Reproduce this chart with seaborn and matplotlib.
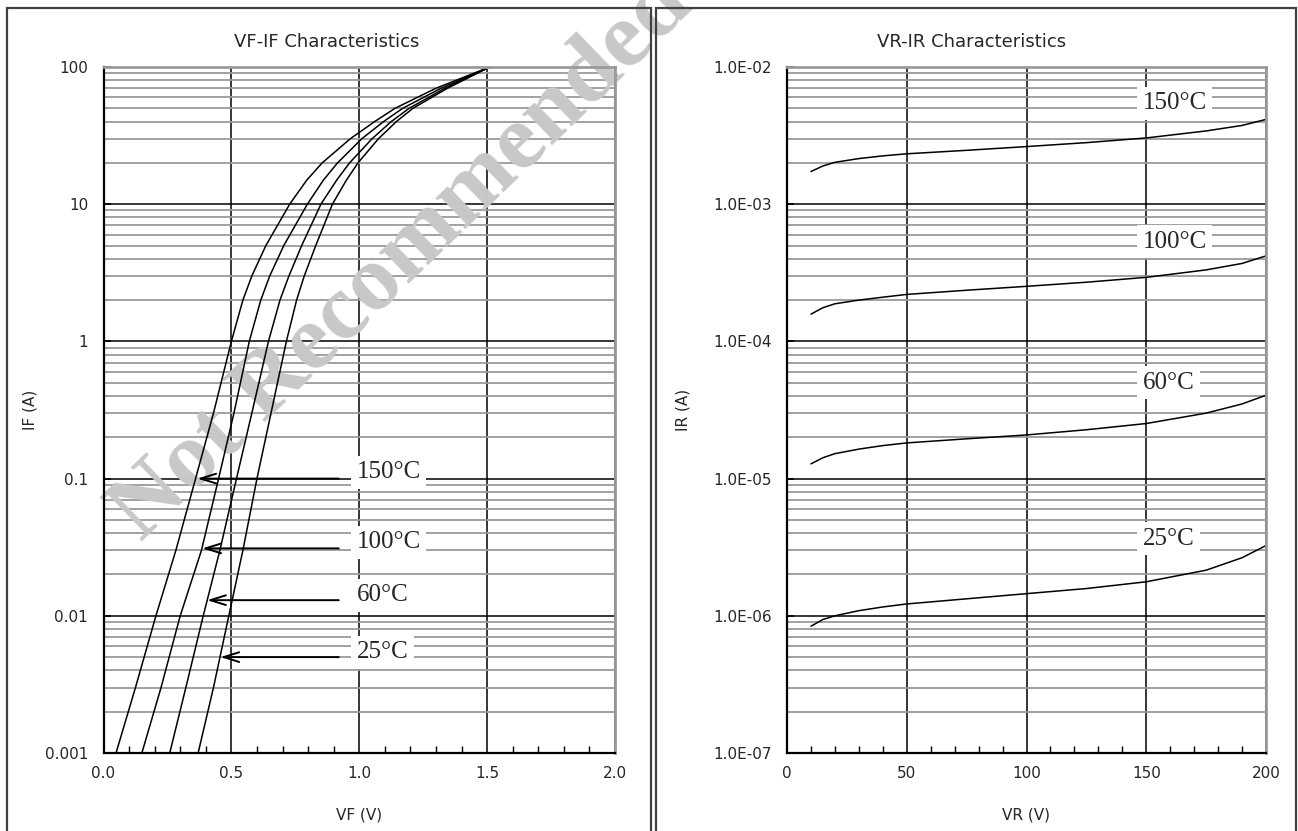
import matplotlib

matplotlib.use('Agg')

import numpy as np
import pandas as pd
import seaborn as sns
from matplotlib import pyplot as plt
from matplotlib.patches import Rectangle
from matplotlib.ticker import MultipleLocator, LogLocator, NullFormatter, FormatStrFormatter

# ---- data ----
temps = ['150°C', '100°C', '60°C', '25°C']

# VF-IF: forward voltage (V) at each forward current (A)
if_points = [0.001, 0.003, 0.01, 0.03, 0.1, 0.3, 1, 2, 3, 5, 10, 15, 20, 30, 40, 50, 70, 100]
vf_150 = [0.049, 0.125, 0.205, 0.283, 0.360, 0.430, 0.500, 0.545, 0.580, 0.635, 0.728, 0.795,
          0.855, 0.965, 1.060, 1.140, 1.300, 1.51]
vf_100 = [0.150, 0.225, 0.300, 0.383, 0.450, 0.510, 0.570, 0.615, 0.650, 0.705, 0.797, 0.860,
          0.915, 1.010, 1.095, 1.170, 1.320, 1.51]
vf_60 = [0.259, 0.322, 0.390, 0.455, 0.520, 0.580, 0.645, 0.690, 0.725, 0.775, 0.850, 0.912,
         0.962, 1.050, 1.125, 1.195, 1.335, 1.51]
vf_25 = [0.370, 0.430, 0.490, 0.545, 0.600, 0.655, 0.715, 0.755, 0.785, 0.830, 0.895, 0.950,
         0.995, 1.075, 1.145, 1.210, 1.345, 1.51]

# VR-IR: reverse current (A) at each reverse voltage (V)
vr_points = [10, 15, 20, 30, 40, 50, 75, 100, 125, 150, 175, 190, 200]
ir_150 = [1.73e-3, 1.90e-3, 2.02e-3, 2.15e-3, 2.25e-3, 2.33e-3, 2.47e-3, 2.63e-3, 2.81e-3,
          3.04e-3, 3.42e-3, 3.75e-3, 4.15e-3]
ir_100 = [1.58e-4, 1.76e-4, 1.88e-4, 2.00e-4, 2.10e-4, 2.20e-4, 2.36e-4, 2.52e-4, 2.70e-4,
          2.93e-4, 3.32e-4, 3.70e-4, 4.20e-4]
ir_60 = [1.28e-5, 1.42e-5, 1.52e-5, 1.64e-5, 1.74e-5, 1.82e-5, 1.95e-5, 2.08e-5, 2.27e-5,
         2.52e-5, 3.00e-5, 3.50e-5, 4.05e-5]
ir_25 = [8.4e-7, 9.4e-7, 1.0e-6, 1.09e-6, 1.16e-6, 1.22e-6, 1.33e-6, 1.45e-6, 1.58e-6,
         1.77e-6, 2.15e-6, 2.65e-6, 3.25e-6]

# annotation positions (left panel arrows, label anchors)
arrow_if = [0.1, 0.031, 0.013, 0.005]
arrow_tip_vf = [0.367, 0.386, 0.405, 0.457]
label_if = [0.111, 0.0343, 0.0141, 0.00544]
label_ir = [5.45e-3, 5.32e-4, 5.0e-5, 3.63e-6]

if_ticks = [0.001, 0.01, 0.1, 1, 10, 100]
if_ticklabels = ['0.001', '0.01', '0.1', '1', '10', '100']
ir_ticks = [1e-7, 1e-6, 1e-5, 1e-4, 1e-3, 1e-2]
ir_ticklabels = ['1.0E-07', '1.0E-06', '1.0E-05', '1.0E-04', '1.0E-03', '1.0E-02']

fwd = pd.concat([pd.DataFrame({'IF': if_points, 'VF': v, 'temp': t})
                 for t, v in zip(temps, [vf_150, vf_100, vf_60, vf_25])])
rev = pd.concat([pd.DataFrame({'VR': vr_points, 'IR': v, 'temp': t})
                 for t, v in zip(temps, [ir_150, ir_100, ir_60, ir_25])])

sns.set_style('white')
plt.rcParams['font.family'] = ['DejaVu Sans']

W, H = 1298, 831
fig = plt.figure(figsize=(W / 100, H / 100), dpi=100)
ax1 = fig.add_axes([103.5 / W, 1 - 753 / H, (615 - 103.5) / W, (753 - 67) / H])
ax2 = fig.add_axes([787 / W, 1 - 753 / H, (1266 - 787) / W, (753 - 67) / H])

black_pal = {t: 'black' for t in temps}
sns.lineplot(data=fwd, x='VF', y='IF', hue='temp', palette=black_pal, estimator=None,
             sort=False, legend=False, lw=1.1, ax=ax1, zorder=2)
sns.lineplot(data=rev, x='VR', y='IR', hue='temp', palette=black_pal, estimator=None,
             sort=False, legend=False, lw=1.1, ax=ax2, zorder=2)


def style_axes(ax, xmax, xmajor, xminor, yticks, yticklabels):
    ax.set_yscale('log')
    ax.set_xlim(0, xmax)
    ax.set_ylim(yticks[0], yticks[-1])
    ax.set_axisbelow(True)
    ax.xaxis.set_major_locator(MultipleLocator(xmajor))
    ax.xaxis.set_minor_locator(MultipleLocator(xminor))
    ax.set_yticks(yticks, labels=yticklabels)
    ax.yaxis.set_minor_locator(LogLocator(base=10, subs=np.arange(2, 10)))
    ax.yaxis.set_minor_formatter(NullFormatter())
    ax.grid(which='major', axis='both', color='black', lw=1.1)
    ax.grid(which='minor', axis='y', color='#9a9a9a', lw=1.3)
    ax.tick_params(axis='x', which='major', length=0, pad=9, labelsize=11)
    ax.tick_params(axis='x', which='minor', direction='in', length=5, width=1, color='black',
                   bottom=True)
    ax.tick_params(axis='y', which='major', direction='in', length=5, width=1.2, color='black',
                   pad=11, labelsize=11, left=True)
    ax.tick_params(axis='y', which='minor', length=0)
    for side in ['left', 'bottom']:
        ax.spines[side].set_color('black')
        ax.spines[side].set_linewidth(1.6)
    for side in ['top', 'right']:
        ax.spines[side].set_color('#9a9a9a')
        ax.spines[side].set_linewidth(2.0)


style_axes(ax1, 2.0, 0.5, 0.1, if_ticks, if_ticklabels)
style_axes(ax2, 200, 50, 10, ir_ticks, ir_ticklabels)
ax1.xaxis.set_major_formatter(FormatStrFormatter('%.1f'))

ax1.set_xlabel('VF (V)', fontsize=11)
ax1.set_ylabel('IF (A)', fontsize=11)
ax2.set_xlabel('VR (V)', fontsize=11)
ax2.set_ylabel('IR (A)', fontsize=11)
ax1.xaxis.set_label_coords(0.5, -0.080)
ax2.xaxis.set_label_coords(0.5, -0.080)
ax1.yaxis.set_label_coords(-0.130, 0.5)
ax2.yaxis.set_label_coords(-0.2025, 0.5)

fig.text(327 / W, 1 - 42 / H, 'VF-IF Characteristics', ha='center', va='center', fontsize=13)
fig.text(972 / W, 1 - 42 / H, 'VR-IR Characteristics', ha='center', va='center', fontsize=13)

# temperature labels and arrows
box = dict(facecolor='white', edgecolor='none', pad=4)
for t, ly, ay, tip in zip(temps, label_if, arrow_if, arrow_tip_vf):
    ax1.annotate('', xy=(tip, ay), xytext=(0.92, ay),
                 arrowprops=dict(arrowstyle='->,head_length=0.8,head_width=0.25', color='black',
                                 lw=1.4, shrinkA=0, shrinkB=0, mutation_scale=14), zorder=3)
    ax1.text(0.99, ly, t, family='Liberation Serif', fontsize=18, ha='left', va='center',
             bbox=box, zorder=4)
for t, ly in zip(temps, label_ir):
    ax2.text(148.5, ly, t, family='Liberation Serif', fontsize=18, ha='left', va='center',
             bbox=box, zorder=4)

# watermark
ax1.text(0.310, 0.688, 'Not Recommended', transform=fig.transFigure, rotation=44,
         rotation_mode='anchor', ha='center', va='center', fontsize=68, fontweight='bold',
         family='Liberation Serif', color='#c8c8c8', zorder=1.5, clip_on=False)

# panel frames
for x0, x1 in [(7, 651), (656, 1296)]:
    fig.add_artist(Rectangle((x0 / W, -0.1), (x1 - x0) / W, 1.1 - 8 / H,
                             transform=fig.transFigure, fill=False, edgecolor='#404040', lw=1.6))

fig.savefig('out.png', dpi=100)
